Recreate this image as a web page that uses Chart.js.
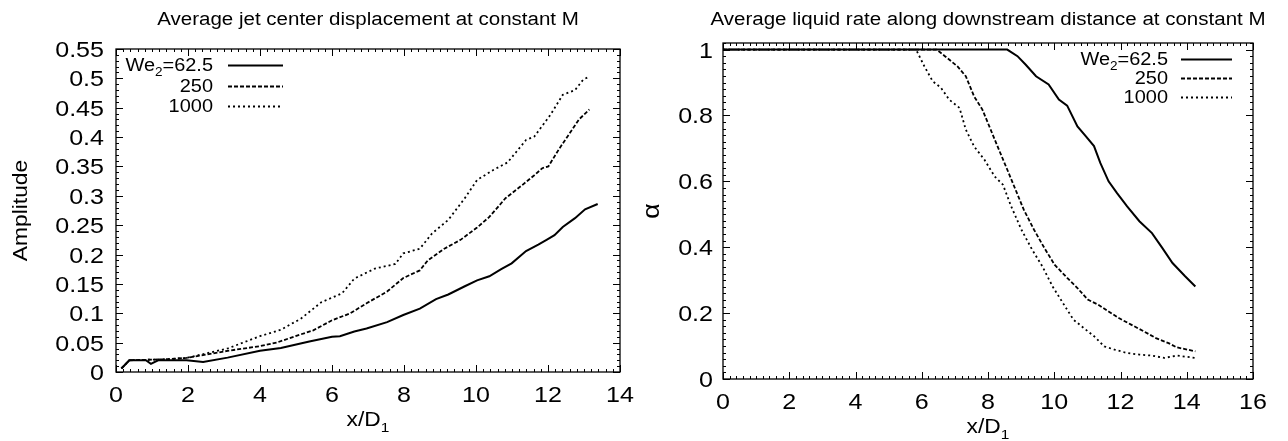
<!DOCTYPE html>
<html>
<head>
<meta charset="utf-8">
<title>Jet displacement and liquid rate</title>
<script src="https://cdn.jsdelivr.net/npm/chart.js@4.4.1/dist/chart.umd.min.js"></script>
<style>
  body { margin: 0; background: #fff; }
  .panel { position: absolute; top: 0; }
</style>
</head>
<body>
<div class="panel" style="left:0"><canvas id="ampChart" width="640" height="441"></canvas></div>
<div class="panel" style="left:640px"><canvas id="alphaChart" width="648" height="441"></canvas></div>
<script>
// amplitude vs x/D1
const ampX62 = [0.15, 0.37, 0.83, 0.97, 1.17, 1.96, 2.42, 3.1, 4.0, 4.58, 5.37, 6.0, 6.22, 6.62, 6.96, 7.53, 7.98, 8.44, 8.89, 9.23, 9.69, 10.03, 10.37, 10.7, 10.99, 11.39, 11.73, 11.96, 12.18, 12.41, 12.75, 13.03, 13.38];
const ampY62 = [0.006, 0.02, 0.02, 0.014, 0.02, 0.02, 0.017, 0.0245, 0.036, 0.041, 0.052, 0.06, 0.061, 0.069, 0.074, 0.085, 0.097, 0.108, 0.124, 0.132, 0.146, 0.156, 0.163, 0.175, 0.185, 0.206, 0.217, 0.225, 0.233, 0.247, 0.262, 0.277, 0.286];
const ampX250 = [0.15, 0.37, 1.0, 1.5, 1.96, 2.53, 3.1, 4.0, 4.46, 5.03, 5.48, 6.0, 6.51, 6.96, 7.53, 7.98, 8.44, 8.66, 9.12, 9.57, 10.03, 10.37, 10.82, 11.28, 11.62, 11.84, 12.01, 12.3, 12.64, 12.86, 13.15];
const ampY250 = [0.006, 0.02, 0.021, 0.022, 0.024, 0.03, 0.036, 0.044, 0.05, 0.062, 0.071, 0.088, 0.1, 0.117, 0.137, 0.16, 0.173, 0.19, 0.21, 0.225, 0.246, 0.264, 0.296, 0.318, 0.335, 0.347, 0.35, 0.379, 0.41, 0.43, 0.447];
const ampX1000 = [0.15, 0.37, 1.0, 1.5, 1.96, 3.1, 4.0, 4.58, 5.14, 5.71, 6.28, 6.62, 7.19, 7.76, 7.98, 8.44, 8.78, 9.23, 9.69, 10.03, 10.48, 10.88, 11.39, 11.62, 12.07, 12.41, 12.75, 12.98, 13.15];
const ampY1000 = [0.006, 0.02, 0.021, 0.022, 0.024, 0.04, 0.061, 0.072, 0.091, 0.119, 0.134, 0.159, 0.176, 0.184, 0.202, 0.21, 0.236, 0.259, 0.296, 0.327, 0.344, 0.357, 0.395, 0.401, 0.438, 0.472, 0.48, 0.498, 0.503];

// liquid rate alpha vs x/D1
const alphaX62 = [0, 8.58, 8.89, 9.14, 9.45, 9.83, 10.14, 10.39, 10.7, 10.95, 11.2, 11.39, 11.64, 11.89, 12.2, 12.57, 12.95, 13.26, 13.57, 13.95, 14.26];
const alphaY62 = [1, 1, 0.98, 0.954, 0.919, 0.894, 0.848, 0.83, 0.767, 0.737, 0.707, 0.656, 0.6, 0.565, 0.524, 0.479, 0.443, 0.398, 0.352, 0.312, 0.281];
const alphaX250 = [0, 6.45, 6.7, 7.08, 7.33, 7.58, 7.83, 8.08, 8.33, 8.58, 8.83, 9.08, 9.39, 9.7, 10.01, 10.39, 10.7, 11.01, 11.32, 11.64, 11.95, 12.32, 12.7, 13.07, 13.45, 13.7, 14.26];
const alphaY250 = [1, 1, 0.98, 0.949, 0.919, 0.858, 0.818, 0.757, 0.696, 0.636, 0.575, 0.514, 0.453, 0.398, 0.347, 0.307, 0.276, 0.241, 0.226, 0.205, 0.185, 0.165, 0.145, 0.124, 0.109, 0.096, 0.084];
const alphaX1000 = [0, 5.83, 6.08, 6.33, 6.58, 6.83, 7.14, 7.33, 7.58, 7.89, 8.2, 8.45, 8.7, 9.01, 9.33, 9.64, 9.95, 10.26, 10.58, 10.95, 11.2, 11.51, 11.82, 12.2, 12.57, 12.95, 13.32, 13.7, 14.26];
const alphaY1000 = [1, 1, 0.949, 0.904, 0.884, 0.848, 0.823, 0.757, 0.706, 0.666, 0.615, 0.59, 0.524, 0.453, 0.393, 0.342, 0.281, 0.231, 0.18, 0.15, 0.13, 0.099, 0.089, 0.079, 0.074, 0.071, 0.064, 0.071, 0.064];

const weLabels = ['62.5', '250', '1000'];

const ampTicksX = ['0', '2', '4', '6', '8', '10', '12', '14'];
const ampTicksY = ['0', '0.05', '0.1', '0.15', '0.2', '0.25', '0.3', '0.35', '0.4', '0.45', '0.5', '0.55'];
const alphaTicksX = ['0', '2', '4', '6', '8', '10', '12', '14', '16'];
const alphaTicksY = ['0', '0.2', '0.4', '0.6', '0.8', '1'];

const FONT = '"Liberation Sans", Arial, sans-serif';
const SX = 1.14; // the plot font runs wider than Arial
const dashes = [[], [4, 2], [2, 3]];

function pts(xs, ys) {
  return xs.map((x, i) => ({ x: x, y: ys[i] }));
}

// draws a run of [text, isSubscript] parts, baseline at y
function drawRich(ctx, parts, x, y, size, align, rot) {
  ctx.save();
  ctx.translate(x, y);
  if (rot) ctx.rotate(rot);
  ctx.scale(SX, 1);
  const fontFor = sub => (sub ? size * 0.68 : size) + 'px ' + FONT;
  let w = 0;
  parts.forEach(p => { ctx.font = fontFor(p[1]); w += ctx.measureText(p[0]).width; });
  let cx = align === 'right' ? -w : align === 'center' ? -w / 2 : 0;
  ctx.fillStyle = '#000';
  ctx.textAlign = 'left';
  ctx.textBaseline = 'alphabetic';
  parts.forEach(p => {
    ctx.font = fontFor(p[1]);
    ctx.fillText(p[0], cx, p[1] ? size * 0.3 : 0);
    cx += ctx.measureText(p[0]).width;
  });
  ctx.restore();
}

function minorValues(min, max, step) {
  const out = [];
  const n = Math.round((max - min) / step);
  for (let i = 0; i <= n; i++) out.push(min + i * step);
  return out;
}

// gnuplot-like frame: border, inward ticks on all sides, labels, key
const gnuFrame = {
  id: 'gnuFrame',
  afterDatasetsDraw(chart, args, o) {
    const ctx = chart.ctx;
    const a = chart.chartArea;
    const xs = chart.scales.x, ys = chart.scales.y;
    ctx.save();
    ctx.strokeStyle = '#000';
    ctx.lineWidth = 1;
    ctx.beginPath();
    const tickX = (v, len) => {
      const p = Math.round(xs.getPixelForValue(v)) + 0.5;
      ctx.moveTo(p, a.bottom); ctx.lineTo(p, a.bottom - len);
      ctx.moveTo(p, a.top); ctx.lineTo(p, a.top + len);
    };
    const tickY = (v, len) => {
      const p = Math.round(ys.getPixelForValue(v)) + 0.5;
      ctx.moveTo(a.left, p); ctx.lineTo(a.left + len, p);
      ctx.moveTo(a.right, p); ctx.lineTo(a.right - len, p);
    };
    minorValues(xs.min, o.xEnd, o.xMinor).forEach(v => tickX(v, 3));
    minorValues(ys.min, o.yEnd, o.yMinor).forEach(v => tickY(v, 3));
    o.ticksX.forEach(t => tickX(parseFloat(t), 7));
    o.ticksY.forEach(t => tickY(parseFloat(t), 7));
    ctx.stroke();
    ctx.lineWidth = 1.3;
    ctx.strokeRect(a.left, a.top, a.right - a.left, a.bottom - a.top);
    ctx.restore();

    // tick labels
    o.ticksX.forEach(t => {
      drawRich(ctx, [[t]], xs.getPixelForValue(parseFloat(t)), a.bottom + 30, 22, 'center');
    });
    o.ticksY.forEach(t => {
      drawRich(ctx, [[t]], a.left - o.yLabelGap, ys.getPixelForValue(parseFloat(t)) + 8, 22, 'right');
    });

    // titles
    const midX = (a.left + a.right) / 2, midY = (a.top + a.bottom) / 2;
    drawRich(ctx, [[o.title]], midX, 25, 18, 'center');
    drawRich(ctx, [['x/D'], ['1', true]], midX, a.bottom + 54, 20, 'center');
    drawRich(ctx, o.yTitle, o.yTitleX, midY, o.yTitleSize, 'center', -Math.PI / 2);

    // key
    chart.data.datasets.forEach((ds, i) => {
      const y = a.top + o.keyRows[i];
      const parts = i === 0 ? [['We'], ['2', true], ['=' + weLabels[0]]] : [[weLabels[i]]];
      drawRich(ctx, parts, o.keyText(a), y + 6, 17.5, 'right');
      ctx.save();
      ctx.strokeStyle = '#000';
      ctx.lineWidth = ds.borderWidth;
      ctx.setLineDash(ds.borderDash);
      ctx.beginPath();
      ctx.moveTo(o.keyLine(a)[0], y + 0.5);
      ctx.lineTo(o.keyLine(a)[1], y + 0.5);
      ctx.stroke();
      ctx.restore();
    });
  }
};

function series(xs, ys, i) {
  return {
    data: pts(xs, ys),
    borderColor: '#000',
    borderWidth: i === 0 ? 2 : 1.8,
    borderDash: dashes[i],
    pointRadius: 0,
    tension: 0,
    fill: false
  };
}

function makeChart(id, sets, cfg) {
  return new Chart(document.getElementById(id), {
    type: 'line',
    data: { datasets: sets },
    plugins: [gnuFrame],
    options: {
      responsive: false,
      animation: false,
      events: [],
      layout: { padding: { top: cfg.top, right: cfg.right, left: 0, bottom: 0 } },
      scales: {
        x: {
          type: 'linear', min: 0, max: cfg.xMax,
          grid: { display: false }, border: { display: false },
          ticks: { display: false },
          afterFit: s => { s.height = cfg.bottom; }
        },
        y: {
          type: 'linear', min: 0, max: cfg.yMax,
          grid: { display: false }, border: { display: false },
          ticks: { display: false },
          afterFit: s => { s.width = cfg.left; }
        }
      },
      plugins: {
        legend: { display: false },
        tooltip: { enabled: false },
        gnuFrame: cfg.frame
      }
    }
  });
}

makeChart('ampChart', [
  series(ampX62, ampY62, 0),
  series(ampX250, ampY250, 1),
  series(ampX1000, ampY1000, 2)
], {
  top: 49, right: 20, bottom: 69, left: 116, xMax: 14, yMax: 0.55,
  frame: {
    title: 'Average jet center displacement at constant M',
    yTitle: [['Amplitude']], yTitleX: 27, yTitleSize: 20,
    ticksX: ampTicksX, ticksY: ampTicksY,
    xEnd: 14, yEnd: 0.55, xMinor: 0.2, yMinor: 0.01, yLabelGap: 12,
    keyRows: [16, 37, 57],
    keyText: a => a.left + 97,
    keyLine: a => [a.left + 112, a.left + 167]
  }
});

makeChart('alphaChart', [
  series(alphaX62, alphaY62, 0),
  series(alphaX250, alphaY250, 1),
  series(alphaX1000, alphaY1000, 2)
], {
  top: 43, right: 35, bottom: 62, left: 83, xMax: 16, yMax: 1.02,
  frame: {
    title: 'Average liquid rate along downstream distance at constant M',
    yTitle: [['\u03b1']], yTitleX: 19, yTitleSize: 24,
    ticksX: alphaTicksX, ticksY: alphaTicksY,
    xEnd: 16, yEnd: 1.02, xMinor: 0.2, yMinor: 0.02, yLabelGap: 10,
    keyRows: [16, 35, 54],
    keyText: a => a.right - 85,
    keyLine: a => [a.right - 72, a.right - 21]
  }
});
</script>
</body>
</html>
